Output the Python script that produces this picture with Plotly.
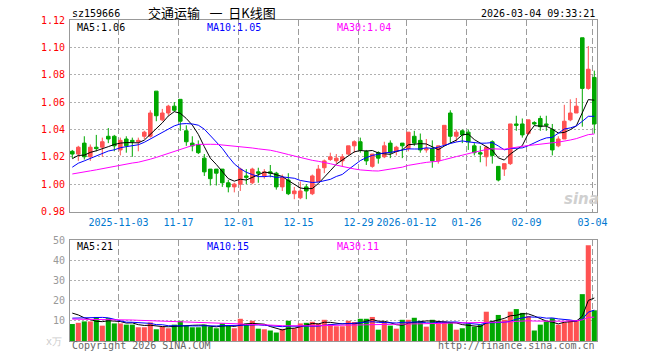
import numpy as np
import plotly.graph_objects as go

# ---------------- data ----------------
dates = ["2025-10-22","2025-10-23","2025-10-24","2025-10-27","2025-10-28","2025-10-29","2025-10-30","2025-10-31",
         "2025-11-03","2025-11-04","2025-11-05","2025-11-06","2025-11-07","2025-11-10","2025-11-11","2025-11-12",
         "2025-11-13","2025-11-14","2025-11-17","2025-11-18","2025-11-19","2025-11-20","2025-11-21","2025-11-24",
         "2025-11-25","2025-11-26","2025-11-27","2025-11-28","2025-12-01","2025-12-02","2025-12-03","2025-12-04",
         "2025-12-05","2025-12-08","2025-12-09","2025-12-10","2025-12-11","2025-12-12","2025-12-15","2025-12-16",
         "2025-12-17","2025-12-18","2025-12-19","2025-12-22","2025-12-23","2025-12-24","2025-12-25","2025-12-26",
         "2025-12-29","2025-12-30","2025-12-31","2026-01-05","2026-01-06","2026-01-07","2026-01-08","2026-01-09",
         "2026-01-12","2026-01-13","2026-01-14","2026-01-15","2026-01-16","2026-01-19","2026-01-20","2026-01-21",
         "2026-01-22","2026-01-23","2026-01-26","2026-01-27","2026-01-28","2026-01-29","2026-01-30","2026-02-02",
         "2026-02-03","2026-02-04","2026-02-05","2026-02-06","2026-02-09","2026-02-10","2026-02-11","2026-02-12",
         "2026-02-13","2026-02-24","2026-02-25","2026-02-26","2026-02-27","2026-03-02","2026-03-03","2026-03-04"]

open_ = [1.024,1.022,1.030,1.020,1.027,1.027,1.035,1.035,1.025,1.033,1.032,1.031,1.035,1.035,1.068,1.047,
         1.052,1.057,1.062,1.039,1.030,1.029,1.019,1.011,1.011,1.011,1.001,0.998,1.000,1.006,1.001,1.009,
         1.006,1.009,1.008,0.998,1.003,0.993,0.990,0.998,0.993,1.002,1.012,1.018,1.017,1.017,1.022,1.028,
         1.031,1.024,1.013,1.023,1.020,1.030,1.024,1.030,1.026,1.035,1.032,1.025,1.026,1.017,1.029,1.052,
         1.035,1.039,1.038,1.028,1.023,1.020,1.031,1.013,1.011,1.015,1.044,1.044,1.037,1.045,1.048,1.044,
         1.040,1.028,1.033,1.047,1.052,1.107,1.070,1.078]
high = [1.025,1.028,1.035,1.029,1.036,1.034,1.041,1.036,1.034,1.035,1.034,1.034,1.039,1.054,1.068,1.055,
        1.058,1.060,1.062,1.043,1.035,1.032,1.022,1.011,1.011,1.011,1.003,1.001,1.012,1.011,1.012,1.012,
        1.011,1.014,1.009,1.007,1.008,0.998,1.002,1.000,1.007,1.014,1.018,1.023,1.022,1.022,1.028,1.032,
        1.034,1.025,1.022,1.024,1.031,1.032,1.028,1.030,1.038,1.039,1.037,1.033,1.032,1.028,1.043,1.054,
        1.040,1.040,1.040,1.030,1.028,1.028,1.032,1.013,1.015,1.044,1.050,1.048,1.047,1.046,1.050,1.050,
        1.044,1.035,1.058,1.062,1.063,1.107,1.101,1.083]
low = [1.019,1.017,1.018,1.017,1.024,1.020,1.030,1.024,1.021,1.023,1.020,1.024,1.033,1.034,1.046,1.046,
       1.050,1.053,1.039,1.028,1.024,1.022,1.006,0.999,0.999,0.998,0.994,0.994,0.995,1.000,1.000,1.001,
       1.004,1.005,0.996,0.995,0.992,0.989,0.989,0.989,0.992,1.002,1.008,1.017,1.015,1.013,1.021,1.023,
       1.023,1.014,1.012,1.015,1.019,1.019,1.021,1.019,1.024,1.028,1.023,1.023,1.012,1.015,1.028,1.030,
       1.031,1.030,1.025,1.021,1.016,1.013,1.015,1.002,1.006,1.014,1.039,1.034,1.036,1.043,1.039,1.039,
       1.021,1.027,1.033,1.046,1.052,1.042,1.069,1.037]
close = [1.022,1.027,1.020,1.027,1.026,1.031,1.033,1.028,1.032,1.028,1.031,1.032,1.038,1.052,1.050,1.052,
         1.057,1.054,1.046,1.031,1.028,1.023,1.009,1.004,1.008,1.001,0.998,1.000,1.011,1.005,1.011,1.008,
         1.009,1.008,0.998,1.005,0.993,0.995,0.995,0.995,1.006,1.011,1.017,1.020,1.019,1.020,1.028,1.031,
         1.025,1.017,1.022,1.019,1.028,1.023,1.027,1.028,1.038,1.030,1.025,1.026,1.017,1.028,1.043,1.035,
         1.038,1.036,1.031,1.023,1.022,1.027,1.021,1.003,1.015,1.044,1.043,1.036,1.047,1.044,1.042,1.043,
         1.025,1.033,1.046,1.052,1.057,1.070,1.084,1.044]
volume = [8.4,9.0,9.7,9.7,11.9,7.6,11.3,8.7,8.7,8.1,8.1,6.8,6.8,9.2,5.8,7.1,
          6.3,8.1,10.0,7.6,6.8,6.8,8.1,7.1,6.3,8.7,7.6,6.3,11.0,8.7,10.0,6.1,
          5.8,5.2,4.2,6.0,10.0,6.3,8.7,9.0,9.5,8.7,10.5,8.4,7.3,7.3,10.0,9.4,
          11.0,11.0,11.9,5.6,9.2,7.6,6.1,10.5,10.5,11.5,10.0,7.1,10.5,9.7,9.7,9.2,
          5.6,6.3,8.4,7.1,8.1,14.5,10.0,12.9,10.5,14.5,15.8,13.9,12.4,5.2,8.1,9.7,
          11.3,8.1,9.2,10.3,10.3,23.2,47.4,15.2]

# sessions just before the window (needed only for the moving averages)
prior_close = [1.000,1.002,1.004,1.003,1.005,1.002,1.004,1.003,1.008,1.012,1.014,1.011,1.013,1.010,1.009,
               1.011,1.009,0.996,0.992,0.991,0.998,1.003,1.008,1.010,1.012,1.015,1.019,1.017,1.020]
prior_volume = [9.5,11.2,10.8,12.0,9.8,10.4,11.5,9.9,10.6,10.2,11.0,9.6,10.9,10.3,11.4,10.1,9.7,10.8,11.2,11.1,
                8.5,9.2,8.1,9.6,8.6,13.5,16.8,14.2,16.1]

tick_dates = ["2025-11-03","2025-11-17","2025-12-01","2025-12-15","2025-12-29","2026-01-12","2026-01-26","2026-02-09","2026-03-04"]
tick_text = ["2025-11-03","11-17","12-01","12-15","12-29","2026-01-12","01-26","02-09","03-04"]
price_ticks = [0.98,1.00,1.02,1.04,1.06,1.08,1.10,1.12]
vol_ticks = [10,20,30,40,50]

code = "sz159666"
title_cn = "交通运输\u2002\u00a0一\u00a0\u00a0日K线图"
stamp = "2026-03-04 09:33:21"

# ---------------- helpers ----------------
def ma(prior, vals, n):
    a = np.array(prior + vals, dtype=float)
    out = np.convolve(a, np.ones(n) / n, mode="full")[n - 1:len(a)]
    return out[-len(vals):]

N = len(close)
idx = [float(i) for i in range(N)]
ma5, ma10, ma30 = ma(prior_close, close, 5), ma(prior_close, close, 10), ma(prior_close, close, 30)
v5, v10, v30 = ma(prior_volume, volume, 5), ma(prior_volume, volume, 10), ma(prior_volume, volume, 30)

RED = "#ff5252"
GREEN = "#00a800"
GRID_V = "#9c9c9c"
MONO = "DejaVu Sans Mono"
PRICE_RANGE = [0.98, 1.12]
VOL_RANGE = [0, 50]

tickpos = [dates.index(d) - 0.30 for d in tick_dates]

L, R, T, B = 70, 63, 20, 19
W, H = 660, 360
PW, PH = W - L - R, H - T - B
xr = [-0.383, 87.45]
px_per_unit = PW / (xr[1] - xr[0])

fig = go.Figure()

# vertical dashed date lines: thin bar segments (6px on, 3px off) beneath the marks
def dash_segments(rng, span_px):
    lo, hi = rng
    step = (hi - lo) / span_px
    xs, bases, lens = [], [], []
    for tp in tickpos:
        y = hi
        while y > lo:
            y2 = max(lo, y - 6 * step)
            xs.append(tp); bases.append(y2); lens.append(y - y2)
            y = y2 - 3 * step
    return xs, bases, lens

for xa, ya, rng, span in [("x", "y", PRICE_RANGE, 191.5), ("x2", "y2", VOL_RANGE, 101.0)]:
    xs, bases, lens = dash_segments(rng, span)
    fig.add_trace(go.Bar(x=xs, y=lens, base=bases, width=1.0 / px_per_unit, xaxis=xa, yaxis=ya,
                         marker=dict(color=GRID_V, line=dict(width=0)),
                         showlegend=False, hoverinfo="skip"))

fig.add_trace(go.Candlestick(
    x=idx, open=open_, high=high, low=low, close=close, xaxis="x", yaxis="y",
    increasing=dict(line=dict(color=RED, width=1), fillcolor=RED),
    decreasing=dict(line=dict(color=GREEN, width=1), fillcolor=GREEN),
    whiskerwidth=0, showlegend=False, hoverinfo="skip"))
for series, col in [(ma5, "#000000"), (ma10, "#0000ff"), (ma30, "#ff00ff")]:
    fig.add_trace(go.Scatter(x=idx, y=series, mode="lines", line=dict(color=col, width=1),
                             xaxis="x", yaxis="y", showlegend=False, hoverinfo="skip"))

vcol = [RED if c >= o else GREEN for o, c in zip(open_, close)]
fig.add_trace(go.Bar(x=idx, y=volume, width=0.85, marker=dict(color=vcol, line=dict(width=0)),
                     xaxis="x2", yaxis="y2", showlegend=False, hoverinfo="skip"))
for series, col in [(v5, "#000000"), (v10, "#0000ff"), (v30, "#ff00ff")]:
    fig.add_trace(go.Scatter(x=idx, y=series, mode="lines", line=dict(color=col, width=1),
                             xaxis="x2", yaxis="y2", showlegend=False, hoverinfo="skip"))

def fy(py):
    return (H - B - py) / PH

def fx(px):
    return (px - L) / PW

common_x = dict(type="linear", range=xr, showgrid=True, gridcolor=GRID_V, gridwidth=1, griddash="6px,3px",
                showline=True, mirror=True, linecolor="#999999", linewidth=1, zeroline=False,
                tickmode="array", tickvals=tickpos, ticks="", fixedrange=True)

fig.update_layout(
    width=W, height=H, margin=dict(l=L, r=R, t=T, b=B),
    paper_bgcolor="white", plot_bgcolor="white",
    boxgap=0.15, barmode="overlay",
    xaxis=dict(**common_x, domain=[0, 1], anchor="y", ticktext=tick_text,
               tickfont=dict(family=MONO, size=10, color="#0078d0"),
               rangeslider=dict(visible=False), ticklabelstandoff=1),
    yaxis=dict(domain=[fy(211.5), 1], range=PRICE_RANGE, tickvals=price_ticks,
               ticktext=[f"{v:.2f}" for v in price_ticks],
               tickfont=dict(family=MONO, size=10, color="#ff0000"),
               showgrid=True, gridcolor="#b0b0b0", griddash="2px,2px",
               showline=True, mirror=True, linecolor="#999999", linewidth=1,
               zeroline=False, ticks="", fixedrange=True, ticklabelstandoff=2),
    xaxis2=dict(**common_x, domain=[0, 1], anchor="y2", showticklabels=False,
                rangeslider=dict(visible=False)),
    yaxis2=dict(domain=[0, fy(240)], range=VOL_RANGE, tickvals=vol_ticks,
                ticktext=[str(v) for v in vol_ticks],
                tickfont=dict(family=MONO, size=10, color="#999999"),
                showgrid=True, gridcolor="#b0b0b0", griddash="2px,2px",
                showline=True, mirror=True, linecolor="#999999", linewidth=1,
                zeroline=False, ticks="", fixedrange=True, ticklabelstandoff=2),
)

anns = []
def ann(text, px, py, color, size=10, xanchor="left", family=MONO, **kw):
    anns.append(dict(text=text, x=fx(px), y=fy(py), xref="paper", yref="paper",
                     xanchor=xanchor, yanchor="middle", showarrow=False,
                     font=dict(family=family, size=size, color=color), **kw))

ann(code, 70, 13, "#000000")
ann(title_cn, 212, 12, "#000000", size=13, xanchor="center", family="Noto Sans CJK SC")
ann(stamp, 597, 13, "#000000", xanchor="right")
ann(f"MA5:{ma5[-1]:.2f}", 75, 27, "#000000")
ann(f"MA10:{ma10[-1]:.2f}", 205, 27, "#0000ff")
ann(f"MA30:{ma30[-1]:.2f}", 335, 27, "#ff00ff")
ann(f"MA5:{int(v5[-1])}", 75, 246, "#000000")
ann(f"MA10:{int(v10[-1])}", 205, 246, "#0000ff")
ann(f"MA30:{int(v30[-1])}", 335, 246, "#ff00ff")
ann("Copyright 2026 SINA.COM", 70, 346, "#666666")
ann("http://finance.sina.com.cn", 597, 346, "#666666", xanchor="right")
ann("x万", 64, 341, "#cccccc", xanchor="right")
ann("<b><i>sina</i></b>", 581, 199, "#d0d0d0", size=15, xanchor="center", family="DejaVu Sans")
fig.update_layout(annotations=anns)

fig.write_html("out.html", config={"displayModeBar": False},
               post_script="document.body.style.margin='0px';")
